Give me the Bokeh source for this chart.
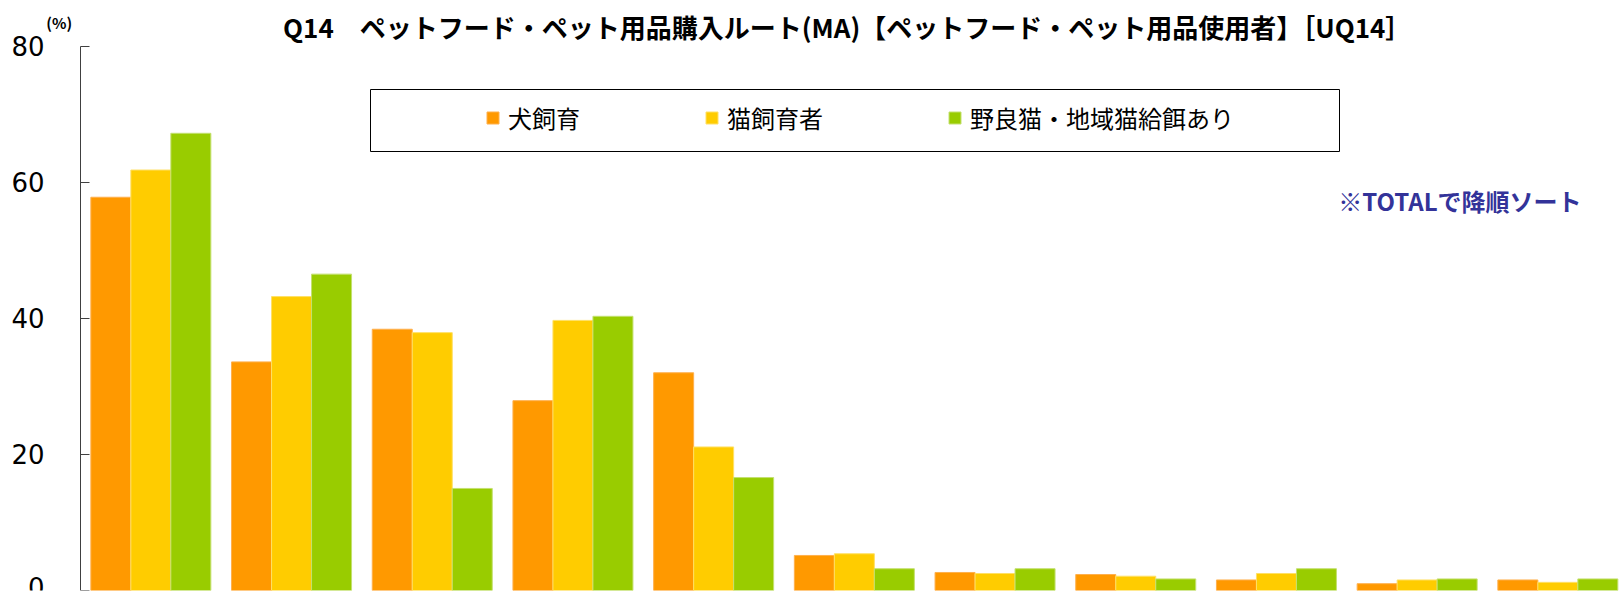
from bokeh.plotting import figure
from bokeh.models import (Range1d, FixedTicker, Legend, LegendItem, Label,
                          BoxAnnotation, ColumnDataSource)
from bokeh.embed import file_html
from bokeh.resources import INLINE
import numpy as np

# ---- data ----
categories = ["ルート1", "ルート2", "ルート3", "ルート4", "ルート5", "ルート6",
              "ルート7", "ルート8", "ルート9", "ルート10", "ルート11"]
series_names = ["犬飼育", "猫飼育者", "野良猫・地域猫給餌あり"]
dog = [57.8, 33.6, 38.4, 27.9, 32.0, 5.15, 2.65, 2.35, 1.55, 1.0, 1.55]
cat = [61.8, 43.2, 37.9, 39.7, 21.1, 5.4, 2.5, 2.1, 2.5, 1.55, 1.2]
stray = [67.2, 46.5, 15.0, 40.3, 16.6, 3.2, 3.2, 1.7, 3.2, 1.7, 1.7]
y_ticks = [0, 20, 40, 60, 80]

title_text = "Q14\u3000ペットフード・ペット用品購入ルート(MA)【ペットフード・ペット用品使用者】［UQ14］"
note_text = "※TOTALで降順ソート"
unit_text = "(%)"

colors = ["#FF9900", "#FFCC00", "#99CC00"]
edge_colors = ["#FFB04D", "#FFE066", "#C4E070"]
JP = "Noto Sans CJK JP"

# ---- layout helpers (pixel -> data) ----
W, H = 1620, 596
AX_X = 80.0          # pixel position of y axis
SLOT = 140.7         # pixels per category slot
Y0 = 590.0           # pixel position of value 0
PPU = (Y0 - 45.7) / 80.0   # pixels per unit


def dx(px):
    return (px - AX_X) / SLOT


def dy(py):
    return (Y0 - py) / PPU


p = figure(width=W, height=H, output_backend="svg", toolbar_location=None,
           x_range=Range1d(dx(0), dx(W)), y_range=Range1d(0, dy(0)),
           min_border_left=0, min_border_right=0, min_border_top=0,
           min_border_bottom=int(H - Y0))
p.outline_line_color = None
p.xgrid.visible = False
p.ygrid.visible = False
p.xaxis.visible = False

ya = p.yaxis[0]
ya.fixed_location = 0
ya.bounds = (0, 80)
ya.ticker = FixedTicker(ticks=y_ticks)
ya.axis_line_color = "#404040"
ya.major_tick_line_color = "#404040"
ya.major_tick_in = 9
ya.major_tick_out = 0
ya.minor_tick_line_color = None
ya.major_label_standoff = 36
ya.major_label_text_font = "DejaVu Sans"
ya.major_label_text_font_size = "26px"
ya.major_label_text_color = "#000000"

idx = np.arange(len(categories)) + 0.5
bw = 40 / SLOT
offsets = [-bw, 0.0, bw]
renderers = []
for vals, off, c, ec in zip([dog, cat, stray], offsets, colors, edge_colors):
    src = ColumnDataSource(dict(x=idx + off, top=vals))
    r = p.vbar(x="x", top="top", width=bw, bottom=0, source=src,
               fill_color=c, line_color=ec, line_width=1)
    renderers.append(r)

# legend frame
box = BoxAnnotation(left=dx(370), right=dx(1339), top=dy(89), bottom=dy(151),
                    fill_alpha=0, line_color="#000000", line_alpha=1.0, line_width=1)
p.add_layout(box)

legend = Legend(items=[LegendItem(label=n, renderers=[r]) for n, r in zip(series_names, renderers)],
                orientation="horizontal", location=(485, 455),
                glyph_width=15, glyph_height=15, label_height=22,
                label_standoff=8, spacing=124, padding=0, margin=0,
                border_line_alpha=0, background_fill_alpha=0,
                label_text_font=JP, label_text_font_size="24px",
                label_text_color="#000000")
p.add_layout(legend, "center")

p.add_layout(Label(x=dx(846.7), y=dy(26), text=title_text,
                   text_align="center", text_baseline="middle", text_font=JP,
                   text_font_size="26px", text_font_style="bold", text_color="#000000"))
p.add_layout(Label(x=dx(58.7), y=dy(22), text=unit_text,
                   text_align="center", text_baseline="middle", text_font=JP,
                   text_font_size="15px", text_font_style="bold", text_color="#000000"))
p.add_layout(Label(x=dx(1581), y=dy(200), text=note_text,
                   text_align="right", text_baseline="middle", text_font=JP,
                   text_font_size="24px", text_font_style="bold", text_color="#333399"))

open("out.html", "w").write(file_html(p, INLINE))
